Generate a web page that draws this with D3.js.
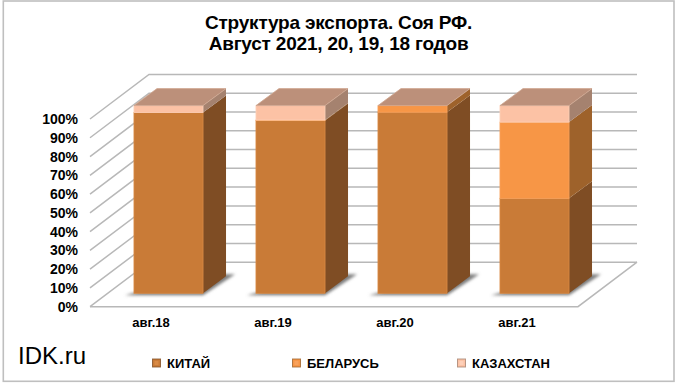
<!DOCTYPE html>
<html>
<head>
  <meta charset="utf-8">
  <title>Структура экспорта. Соя РФ.</title>
  <style>
    html, body { margin: 0; padding: 0; background: #fff; }
    svg { display: block; }
    text { font-family: "Liberation Sans", Arial, sans-serif; fill: #000; }
    .axis path, .axis line { display: none; }
    .axis text { font-weight: bold; }
    .y-axis text { font-size: 14px; }
    .x-axis text { font-size: 13px; }
    .title { font-size: 19px; font-weight: bold; text-anchor: middle; letter-spacing: -0.2px; }
    .legend-label { font-size: 13px; font-weight: bold; }
    .grid { stroke: #b8b8b8; stroke-width: 1.5; fill: none; }
  </style>
  <script src="https://d3js.org/d3.v7.min.js"></script>
</head>
<body>
  <script>
    // data
    var categories = ['авг.18', 'авг.19', 'авг.20', 'авг.21'];
    var seriesNames = ['КИТАЙ', 'БЕЛАРУСЬ', 'КАЗАХСТАН'];
    var china = [96.3, 92.0, 96.5, 50.6];
    var belarus = [0, 0.3, 3.5, 40.6];
    var kazakhstan = [3.7, 7.7, 0, 8.8];
    var yTicks = [0, 10, 20, 30, 40, 50, 60, 70, 80, 90, 100];
    var titleLines = ['Структура экспорта. Соя РФ.', 'Август 2021, 20, 19, 18 годов'];

    // colours per series: front, side
    var frontColors = ['#c97b37', '#f79646', '#fcc2a5'];
    var sideColors = ['#7f4d24', '#9e622b', '#a5826f'];
    var edgeColors = ['#d98a45', '#f9a25c', '#fdd0b9'];
    var topColor = '#bc907a';

    var width = 680, height = 385;
    var plot = {left: 90, right: 578, top: 119, bottom: 306.7};
    var depth = {dx: 59, dy: -44.5};      // wall depth
    var barOffset = {dx: 17.5, dy: -13.4}; // bar front plane from the axis plane
    var barDepth = {dx: 23, dy: -17};

    var svg = d3.select('body').append('svg')
      .attr('width', width)
      .attr('height', height);

    var defs = svg.append('defs');
    defs.append('filter').attr('id', 'blur')
      .attr('x', '-30%').attr('y', '-50%').attr('width', '160%').attr('height', '200%')
      .append('feGaussianBlur').attr('stdDeviation', 1.6);

    var xScale = d3.scaleBand()
      .domain(categories)
      .range([plot.left, plot.right])
      .paddingInner(0.434)
      .paddingOuter(0.217);
    var yScale = d3.scaleLinear()
      .domain([0, 100])
      .range([plot.bottom, plot.top]);

    // outer frame
    svg.append('rect')
      .attr('x', 3.3).attr('y', 1)
      .attr('width', 670.7).attr('height', 380.3)
      .attr('fill', '#fff')
      .attr('stroke', '#bfbfbf')
      .attr('stroke-width', 1.6);

    // title
    svg.selectAll('.title')
      .data(titleLines)
      .enter()
      .append('text')
      .attr('class', 'title')
      .attr('x', 338.5)
      .attr('y', (d, i) => 29 + i * 21)
      .text(d => d);

    // walls and floor
    var gridG = svg.append('g');
    var line = d3.line();
    yTicks.forEach(function(t) {
      var y = yScale(t);
      var pts = [[plot.left, y], [plot.left + depth.dx, y + depth.dy], [plot.right + depth.dx, y + depth.dy]];
      gridG.append('path').attr('class', 'grid').attr('d', line(pts));
    });
    gridG.append('path').attr('class', 'grid')
      .attr('d', line([
        [plot.left, yScale(0)],
        [plot.right, yScale(0)],
        [plot.right + depth.dx, yScale(0) + depth.dy]
      ]));

    // stacked bars
    var table = categories.map((c, i) => ({cat: c, 0: china[i], 1: belarus[i], 2: kazakhstan[i]}));
    var stacked = d3.stack().keys([0, 1, 2])(table);
    var bw = xScale.bandwidth();

    var barX = c => xScale(c) + barOffset.dx;
    var barY = v => yScale(v) + barOffset.dy;

    // floor shadows
    svg.append('g').selectAll('path')
      .data(categories)
      .enter()
      .append('path')
      .attr('fill', '#7d7d7d')
      .attr('filter', 'url(#blur)')
      .attr('d', function(c) {
        var x = barX(c), y = barY(0);
        return line([
          [x - 9, y + 2],
          [x + bw, y + 2],
          [x + bw + barDepth.dx + 9, y + barDepth.dy - 2],
          [x + bw, y + barDepth.dy - 2]
        ]) + 'Z';
      });

    var barsG = svg.append('g');
    stacked.forEach(function(layer, s) {
      var cells = barsG.selectAll('.cell-' + s)
        .data(layer.filter(d => d[1] > d[0]))
        .enter()
        .append('g');
      // side face
      cells.append('path')
        .attr('fill', sideColors[s])
        .attr('d', function(d) {
          var x = barX(d.data.cat) + bw;
          return line([
            [x, barY(d[0])],
            [x + barDepth.dx, barY(d[0]) + barDepth.dy],
            [x + barDepth.dx, barY(d[1]) + barDepth.dy],
            [x, barY(d[1])]
          ]) + 'Z';
        });
      // front face
      cells.append('rect')
        .attr('fill', frontColors[s])
        .attr('stroke', edgeColors[s])
        .attr('stroke-width', 0.8)
        .attr('x', d => barX(d.data.cat))
        .attr('y', d => barY(d[1]))
        .attr('width', bw)
        .attr('height', d => barY(d[0]) - barY(d[1]));
    });

    // top faces
    barsG.selectAll('.top')
      .data(categories)
      .enter()
      .append('path')
      .attr('class', 'top')
      .attr('fill', topColor)
      .attr('stroke', '#cfa790')
      .attr('stroke-width', 0.8)
      .attr('d', function(c) {
        var x = barX(c), y = barY(100);
        return line([
          [x, y],
          [x + bw, y],
          [x + bw + barDepth.dx, y + barDepth.dy],
          [x + barDepth.dx, y + barDepth.dy]
        ]) + 'Z';
      });

    // axes
    var yAxis = d3.axisLeft(yScale)
      .tickValues(yTicks)
      .tickSize(0)
      .tickPadding(12)
      .tickFormat(d => d + '%');
    svg.append('g')
      .attr('class', 'axis y-axis')
      .attr('transform', 'translate(' + plot.left + ',0)')
      .call(yAxis);
    var xAxis = d3.axisBottom(xScale)
      .tickSize(0)
      .tickPadding(11);
    svg.append('g')
      .attr('class', 'axis x-axis')
      .attr('transform', 'translate(0,' + plot.bottom + ')')
      .call(xAxis);

    // legend
    var legendX = [152.5, 292.5, 457.5];
    var legendG = svg.selectAll('.legend')
      .data(seriesNames)
      .enter()
      .append('g')
      .attr('class', 'legend')
      .attr('transform', (d, i) => 'translate(' + legendX[i] + ',359)');
    legendG.append('rect')
      .attr('width', 8).attr('height', 8)
      .attr('fill', (d, i) => frontColors[i])
      .attr('stroke', (d, i) => sideColors[i])
      .attr('stroke-opacity', 0.8)
      .attr('stroke-width', 1);
    legendG.append('rect')
      .attr('x', 2).attr('y', 2)
      .attr('width', 4).attr('height', 4)
      .attr('fill', (d, i) => edgeColors[i]);
    legendG.append('text')
      .attr('class', 'legend-label')
      .attr('x', 14.5)
      .attr('y', 8.7)
      .text(d => d);

    // watermark
    svg.append('text')
      .attr('x', 18)
      .attr('y', 364)
      .attr('font-size', 24)
      .text('IDK.ru');
  </script>
</body>
</html>
